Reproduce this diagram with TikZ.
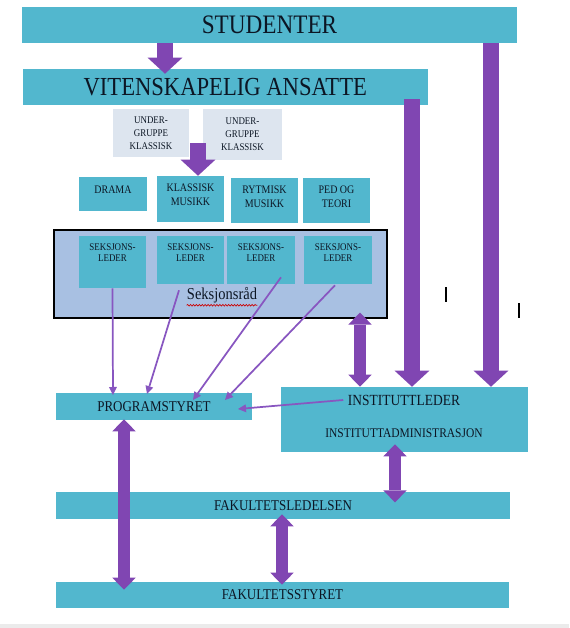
\documentclass[tikz,border=0pt]{standalone}
\usepackage{fontspec}
\setmainfont{Liberation Serif}[FakeStretch=0.87]
\usetikzlibrary{arrows.meta,calc,decorations.pathmorphing}

\definecolor{boxcyan}{RGB}{82,183,206}
\definecolor{subgrey}{RGB}{221,229,239}
\definecolor{raadblue}{RGB}{168,192,226}
\definecolor{arrpurple}{RGB}{128,70,178}
\definecolor{thinpurple}{RGB}{136,86,192}
\definecolor{textnavy}{RGB}{12,22,36}

\begin{document}
\begin{tikzpicture}[x=0.75pt,y=0.75pt,yscale=-1,xscale=1,
	box/.style={fill=boxcyan,inner sep=0pt,align=center,text=textnavy},
	subbox/.style={fill=subgrey,inner sep=0pt,align=center,text=textnavy},
	fatarr/.style={draw=arrpurple,line width=12pt,-{Triangle[width=26pt,length=12pt,line width=0pt]}},
	duoarr/.style={draw=arrpurple,line width=9pt,{Triangle[width=17.5pt,length=9pt,line width=0pt]}-{Triangle[width=17.5pt,length=9pt,line width=0pt]}},
	thinarr/.style={draw=thinpurple,line width=1.3pt,-{Triangle[width=6pt,length=6pt,line width=0pt]}},
	rowfont/.style={font=\fontsize{8.6}{10.5}\selectfont},
	subfont/.style={font=\fontsize{7.7}{9.7}\selectfont},
	lederfont/.style={font=\fontsize{7.7}{8.5}\selectfont},
	midfont/.style={font=\fontsize{11.2}{13}\selectfont}]
	%set diagram left start at 0, and has height of 628
	\useasboundingbox (0,0) rectangle (569,628);
	
	%Shape: Rectangle [page edge]
	\fill [black!8] (0,624) rectangle (569,628) ;
	
	%Shape: Rectangle [STUDENTER]
	\node [box,minimum width=371.25pt,minimum height=27pt,font=\fontsize{20}{24}\selectfont] (stud) at (269.5,25) {STUDENTER};
	%Shape: Rectangle [VITENSKAPELIG ANSATTE]
	\node [box,minimum width=304.1pt,minimum height=27pt,font=\fontsize{19.5}{23}\selectfont] (viten) at (225.25,87) {VITENSKAPELIG ANSATTE};
	
	%Shape: Rectangle [undergrupper]
	\node [subbox,subfont,minimum width=57pt,minimum height=36pt] (under1) at (151,133) {UNDER-\\GRUPPE\\KLASSISK};
	\node [subbox,subfont,minimum width=59.25pt,minimum height=38.25pt] (under2) at (242.5,134.5) {UNDER-\\GRUPPE\\KLASSISK};
	
	%Shape: Rectangle [fagseksjoner]
	\node [box,rowfont,minimum width=51pt,minimum height=25.5pt,text depth=6pt] (drama) at (113,194) {DRAMA};
	\node [box,rowfont,minimum width=50.25pt,minimum height=34.5pt,text depth=6pt] (klass) at (190.5,199) {KLASSISK\\MUSIKK};
	\node [box,rowfont,minimum width=50.25pt,minimum height=33.75pt,text depth=5pt] (rytm) at (264.5,200.5) {RYTMISK\\MUSIKK};
	\node [box,rowfont,minimum width=50.25pt,minimum height=33.75pt,text depth=5pt] (ped) at (336.5,200.5) {PED OG\\TEORI};
	
	%Shape: Rectangle [Seksjonsraad]
	\node [fill=raadblue,draw=black,line width=0.8pt,inner sep=0pt,minimum width=249.75pt,minimum height=66pt] (sraad) at (220.5,274) {};
	\node [box,lederfont,minimum width=50.25pt,minimum height=39pt,text depth=14.25pt] (l1) at (112.5,262) {SEKSJONS-\\LEDER};
	\node [box,lederfont,minimum width=50.25pt,minimum height=36pt,text depth=11.25pt] (l2) at (190.5,260) {SEKSJONS-\\LEDER};
	\node [box,lederfont,minimum width=51pt,minimum height=36pt,text depth=11.25pt] (l3) at (261,260) {SEKSJONS-\\LEDER};
	\node [box,lederfont,minimum width=51pt,minimum height=36pt,text depth=11.25pt] (l4) at (338,260) {SEKSJONS-\\LEDER};
	%Text Node
	\node [text=textnavy,inner sep=0pt,font=\fontsize{12.5}{15}\selectfont] (srtext) at (222,295) {Seksjonsråd};
	\draw [red!80!black,line width=0.5pt,decorate,decoration={snake,amplitude=0.6pt,segment length=2.2pt}] ($(srtext.base west)+(0,6)$) -- ($(srtext.base east)+(0,6)$) ;
	
	%Shape: Rectangle [PROGRAMSTYRET]
	\node [box,midfont,minimum width=147pt,minimum height=20.25pt] (prog) at (154,406.5) {PROGRAMSTYRET};
	%Shape: Rectangle [INSTITUTTLEDER]
	\node [box,minimum width=185.25pt,minimum height=48.75pt] (inst) at (404.5,419.5) {};
	\node [text=textnavy,font=\fontsize{11.6}{14}\selectfont] (ileder) at (404,400) {INSTITUTTLEDER};
	\node [text=textnavy,font=\fontsize{9.9}{12}\selectfont] (iadm) at (404,433) {INSTITUTTADMINISTRASJON};
	%Shape: Rectangle [FAKULTETSLEDELSEN]
	\node [box,midfont,minimum width=340.5pt,minimum height=20.25pt] (fakled) at (283,505.5) {FAKULTETSLEDELSEN};
	%Shape: Rectangle [FAKULTETSSTYRET]
	\node [box,midfont,minimum width=339.75pt,minimum height=19.5pt] (faksty) at (282.5,595) {FAKULTETSSTYRET};
	
	%Straight Lines [thick purple]
	\coordinate (sx) at (165,0) ;
	\coordinate (kx) at (198,143) ;
	\coordinate (rx1) at (412,0) ;
	\coordinate (rx2) at (491,0) ;
	\draw [fatarr,shorten >=-3.75pt] (stud.south -| sx) -- (viten.north -| sx) ;
	\draw [fatarr] (kx) -- (klass.north -| kx) ;
	\draw [fatarr,shorten <=-4.5pt] (viten.south -| rx1) -- (inst.north -| rx1) ;
	\draw [fatarr] (stud.south -| rx2) -- (inst.north -| rx2) ;
	
	%Straight Lines [double purple]
	\coordinate (dx1) at (360,0) ;
	\coordinate (dx2) at (395,0) ;
	\coordinate (dx3) at (282,0) ;
	\coordinate (dx4) at (124,0) ;
	\draw [duoarr,shorten <=-4.5pt] (sraad.south -| dx1) -- (inst.north -| dx1) ;
	\draw [duoarr,shorten <=-6pt,shorten >=-8pt] (inst.south -| dx2) -- (fakled.north -| dx2) ;
	\draw [duoarr,shorten <=-3.75pt,shorten >=-2.25pt] (fakled.south -| dx3) -- (faksty.north -| dx3) ;
	\draw [duoarr,shorten <=-0.75pt,shorten >=-6pt] (prog.south -| dx4) -- (faksty.north -| dx4) ;
	
	%Straight Lines [thin purple]
	\coordinate (pa) at (113,395) ;
	\coordinate (pb) at (147,394) ;
	\coordinate (pc) at (193,400) ;
	\coordinate (pd) at (225,400) ;
	\coordinate (pe) at (238,409) ;
	\draw [thinarr] (l1.south) -- (pa) ;
	\draw [thinarr] ($(l2.south)+(-11.5,6)$) -- (pb) ;
	\draw [thinarr] ($(l3.south)+(20,-7)$) -- (pc) ;
	\draw [thinarr] ($(l4.south)+(-3,1)$) -- (pd) ;
	\draw [thinarr] (ileder.west) -- (pe) ;
	
	%Straight Lines [cursor marks]
	\draw [line width=0.9pt] (446,287) -- (446,302) ;
	\draw [line width=0.9pt] (519,303) -- (519,318) ;
	
\end{tikzpicture}
\end{document}
